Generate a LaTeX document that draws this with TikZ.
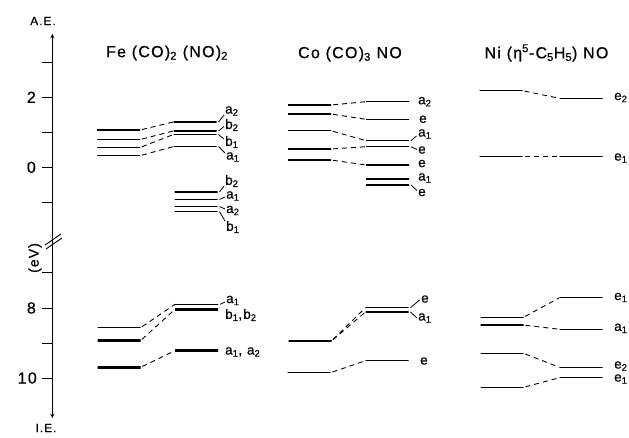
\documentclass[tikz,border=0pt]{standalone}
\usepackage{fontspec}
\setmainfont{Liberation Sans}[LetterSpace=8, FakeBold=0.6]

\begin{document}
\begin{tikzpicture}[x=1pt, y=-1pt,
    lvl/.style={draw, line width=1.4pt, minimum width=43pt, minimum height=0pt,
      inner sep=0pt, outer sep=0pt},
    thk/.style={line width=2.8pt},
    conn/.style={line width=0.9pt, dash pattern=on 5pt off 4pt, shorten <=2pt},
    lead/.style={line width=0.8pt},
    lab/.style={anchor=west, inner sep=0pt, font=\fontsize{13.5}{15}\selectfont},
    ttl/.style={font=\fontsize{16}{19}\selectfont},
    tlab/.style={anchor=east, inner sep=0pt, font=\fontsize{16}{19}\selectfont},
    tck/.style={line width=0.9pt}
  ]
  \useasboundingbox (0,0) rectangle (629,437);

  % energy axis
  \coordinate (ae) at (52.3,34);
  \coordinate (ie) at (52.3,418);
  \draw[line width=0.9pt, stealth-stealth] (ie) -- (ae);
  \foreach \y in {62,97.3,132.7,167.3,202.3,272,308,343,378}
    \draw[tck] (42,\y) -- (52.3,\y);
  \draw[tck] (45,245) -- (61,234);
  \draw[tck] (46,249) -- (62,238);
  \node[tlab] (t2) at (36,97.3) {2};
  \node[tlab] (t0) at (36,167.3) {0};
  \node[tlab] (t8) at (36,308) {8};
  \node[tlab] (t10) at (37,378) {10};
  \node[font=\fontsize{12}{14}\selectfont] (aet) at (43,21) {A.E.};
  \node[font=\fontsize{12}{14}\selectfont] (iet) at (46,428) {I.E.};
  \node[rotate=90, font=\fontsize{14}{16}\selectfont] (ev) at (35,258) {(eV)};

  % Fe(CO)2(NO)2
  \node[ttl] (tfe) at (167,53) {Fe (CO)\textsubscript{2} (NO)\textsubscript{2}};
  \node[lvl] (fa1) at (118.5,130) {};
  \node[lvl] (fa2) at (118.5,139.5) {};
  \node[lvl] (fa3) at (118.5,147.5) {};
  \node[lvl] (fa4) at (118.5,155.7) {};
  \node[lvl] (fb1) at (195,122) {};
  \node[lvl] (fb2) at (195,131) {};
  \node[lvl] (fb3) at (195,134.5) {};
  \node[lvl] (fb4) at (195,146.5) {};
  \foreach \i in {1,...,4}
    \draw[conn] (fa\i.east) -- (fb\i.west);
  \node[lvl] (fc1) at (196,192) {};
  \node[lvl] (fc2) at (196,199.5) {};
  \node[lvl] (fc3) at (196,206.5) {};
  \node[lvl] (fc4) at (196,211.5) {};
  \node[lvl] (fd1) at (119,327.7) {};
  \node[lvl, thk] (fd2) at (119,340.7) {};
  \node[lvl, thk] (fd3) at (119,367.3) {};
  \node[lvl] (fe1) at (196.5,304.3) {};
  \node[lvl, thk] (fe2) at (196.5,309.3) {};
  \node[lvl, thk] (fe3) at (196.5,350.7) {};
  \draw[conn] (fd1.east) -- (fe1.west);
  \draw[conn] (fd2.east) -- (fe2.west);
  \draw[conn] (fd3.east) -- (fe3.west);
  \node[lab] (lfb1) at (225,111) {a\textsubscript{2}};
  \node[lab] (lfb2) at (225,125) {b\textsubscript{2}};
  \node[lab] (lfb3) at (225,142) {b\textsubscript{1}};
  \node[lab] (lfb4) at (226,157) {a\textsubscript{1}};
  \draw[lead] ([xshift=2pt]fb1.east) -- ([shift={(-1,4)}]lfb1.west);
  \draw[lead] ([xshift=2pt]fb2.east) -- ([shift={(-1,1.5)}]lfb2.west);
  \draw[lead] ([xshift=2pt]fb3.east) -- ([shift={(-1,-3)}]lfb3.west);
  \draw[lead] ([xshift=2pt]fb4.east) -- ([shift={(-1,-4)}]lfb4.west);
  \node[lab] (lfc1) at (225,181) {b\textsubscript{2}};
  \node[lab] (lfc2) at (226,196) {a\textsubscript{1}};
  \node[lab] (lfc3) at (226,210.5) {a\textsubscript{2}};
  \node[lab] (lfc4) at (226,227) {b\textsubscript{1}};
  \draw[lead] ([xshift=2pt]fc1.east) -- ([shift={(-1,5)}]lfc1.west);
  \draw[lead] ([xshift=2pt]fc2.east) -- ([shift={(-1,1)}]lfc2.west);
  \draw[lead] ([xshift=2pt]fc3.east) -- ([shift={(-1,-1.5)}]lfc3.west);
  \draw[lead] ([xshift=2pt]fc4.east) -- ([shift={(-1,-6)}]lfc4.west);
  \node[lab] (lfe1) at (226,300.5) {a\textsubscript{1}};
  \draw[lead] ([xshift=2pt]fe1.east) -- ([shift={(-1,1.5)}]lfe1.west);
  \node[lab] (lfe2) at (225,315) {b\textsubscript{1},b\textsubscript{2}};
  \node[lab] (lfe3) at (225,352) {a\textsubscript{1}, a\textsubscript{2}};

  % Co(CO)3NO
  \node[ttl] (tco) at (350,54) {Co (CO)\textsubscript{3} NO};
  \node[lvl] (ca1) at (309.5,105) {};
  \node[lvl] (ca2) at (309.5,114) {};
  \node[lvl] (ca3) at (309.5,130.7) {};
  \node[lvl] (ca4) at (309.5,149) {};
  \node[lvl] (ca5) at (309.5,160) {};
  \node[lvl] (cb1) at (387.5,101.7) {};
  \node[lvl] (cb2) at (387.5,119.3) {};
  \node[lvl] (cb3) at (387.5,140.7) {};
  \node[lvl] (cb4) at (387.5,146.7) {};
  \node[lvl] (cb5) at (387.5,165) {};
  \node[lvl] (cb6) at (387.5,179) {};
  \node[lvl] (cb7) at (387.5,185) {};
  \foreach \i in {1,...,5}
    \draw[conn] (ca\i.east) -- (cb\i.west);
  \node[lab] (lcb1) at (418,101.7) {a\textsubscript{2}};
  \node[lab] (lcb2) at (419,119.3) {e};
  \node[lab] (lcb3) at (418,134) {a\textsubscript{1}};
  \node[lab] (lcb4) at (418,150) {e};
  \node[lab] (lcb5) at (418,163.5) {e};
  \node[lab] (lcb6) at (418,178) {a\textsubscript{1}};
  \node[lab] (lcb7) at (418,192.5) {e};
  \draw[lead] ([xshift=2pt]cb3.east) -- ([shift={(-1.5,2)}]lcb3.west);
  \draw[lead] ([xshift=2pt]cb4.east) -- ([shift={(-1,-0.5)}]lcb4.west);
  \draw[lead] ([xshift=2pt]cb7.east) -- ([shift={(-1,-2)}]lcb7.west);
  \node[lvl, thk] (cc1) at (310,341) {};
  \node[lvl] (cc2) at (309,372.7) {};
  \node[lvl] (cd1) at (387,307.7) {};
  \node[lvl] (cd2) at (387,312) {};
  \node[lvl] (cd3) at (387,360.7) {};
  \draw[conn] (cc1.east) -- (cd1.west);
  \draw[conn] (cc1.east) -- (cd2.west);
  \draw[conn] (cc2.east) -- (cd3.west);
  \node[lab] (lcd1) at (421,299) {e};
  \node[lab] (lcd2) at (418,318) {a\textsubscript{1}};
  \node[lab] (lcd3) at (420,361) {e};
  \draw[lead] ([xshift=2pt]cd1.east) -- ([shift={(-1.5,1)}]lcd1.west);
  \draw[lead] ([xshift=2pt]cd2.east) -- ([shift={(-1,0)}]lcd2.west);

  % Ni(C5H5)NO
  \node[ttl] (tni) at (546.5,53) {Ni (η\textsuperscript{5}-C\textsubscript{5}H\textsubscript{5}) NO};
  \node[lvl] (na1) at (501,90.7) {};
  \node[lvl] (na2) at (501,156.7) {};
  \node[lvl] (nb1) at (581,98.3) {};
  \node[lvl] (nb2) at (581,156.7) {};
  \draw[conn] (na1.east) -- (nb1.west);
  \draw[conn] (na2.east) -- (nb2.west);
  \node[lab] (lnb1) at (614,97.5) {e\textsubscript{2}};
  \node[lab] (lnb2) at (614,158) {e\textsubscript{1}};
  \node[lvl] (nc1) at (502,317.3) {};
  \node[lvl] (nc2) at (502,325) {};
  \node[lvl] (nc3) at (502,353.3) {};
  \node[lvl] (nc4) at (502,387.3) {};
  \node[lvl] (nd1) at (581,297.7) {};
  \node[lvl] (nd2) at (581,329.3) {};
  \node[lvl] (nd3) at (581,367.3) {};
  \node[lvl] (nd4) at (581,377.7) {};
  \foreach \i in {1,...,4}
    \draw[conn] (nc\i.east) -- (nd\i.west);
  \node[lab] (lnd1) at (614,297.5) {e\textsubscript{1}};
  \node[lab] (lnd2) at (614,328.3) {a\textsubscript{1}};
  \node[lab] (lnd3) at (614,366) {e\textsubscript{2}};
  \node[lab] (lnd4) at (614,379) {e\textsubscript{1}};
\end{tikzpicture}
\end{document}
